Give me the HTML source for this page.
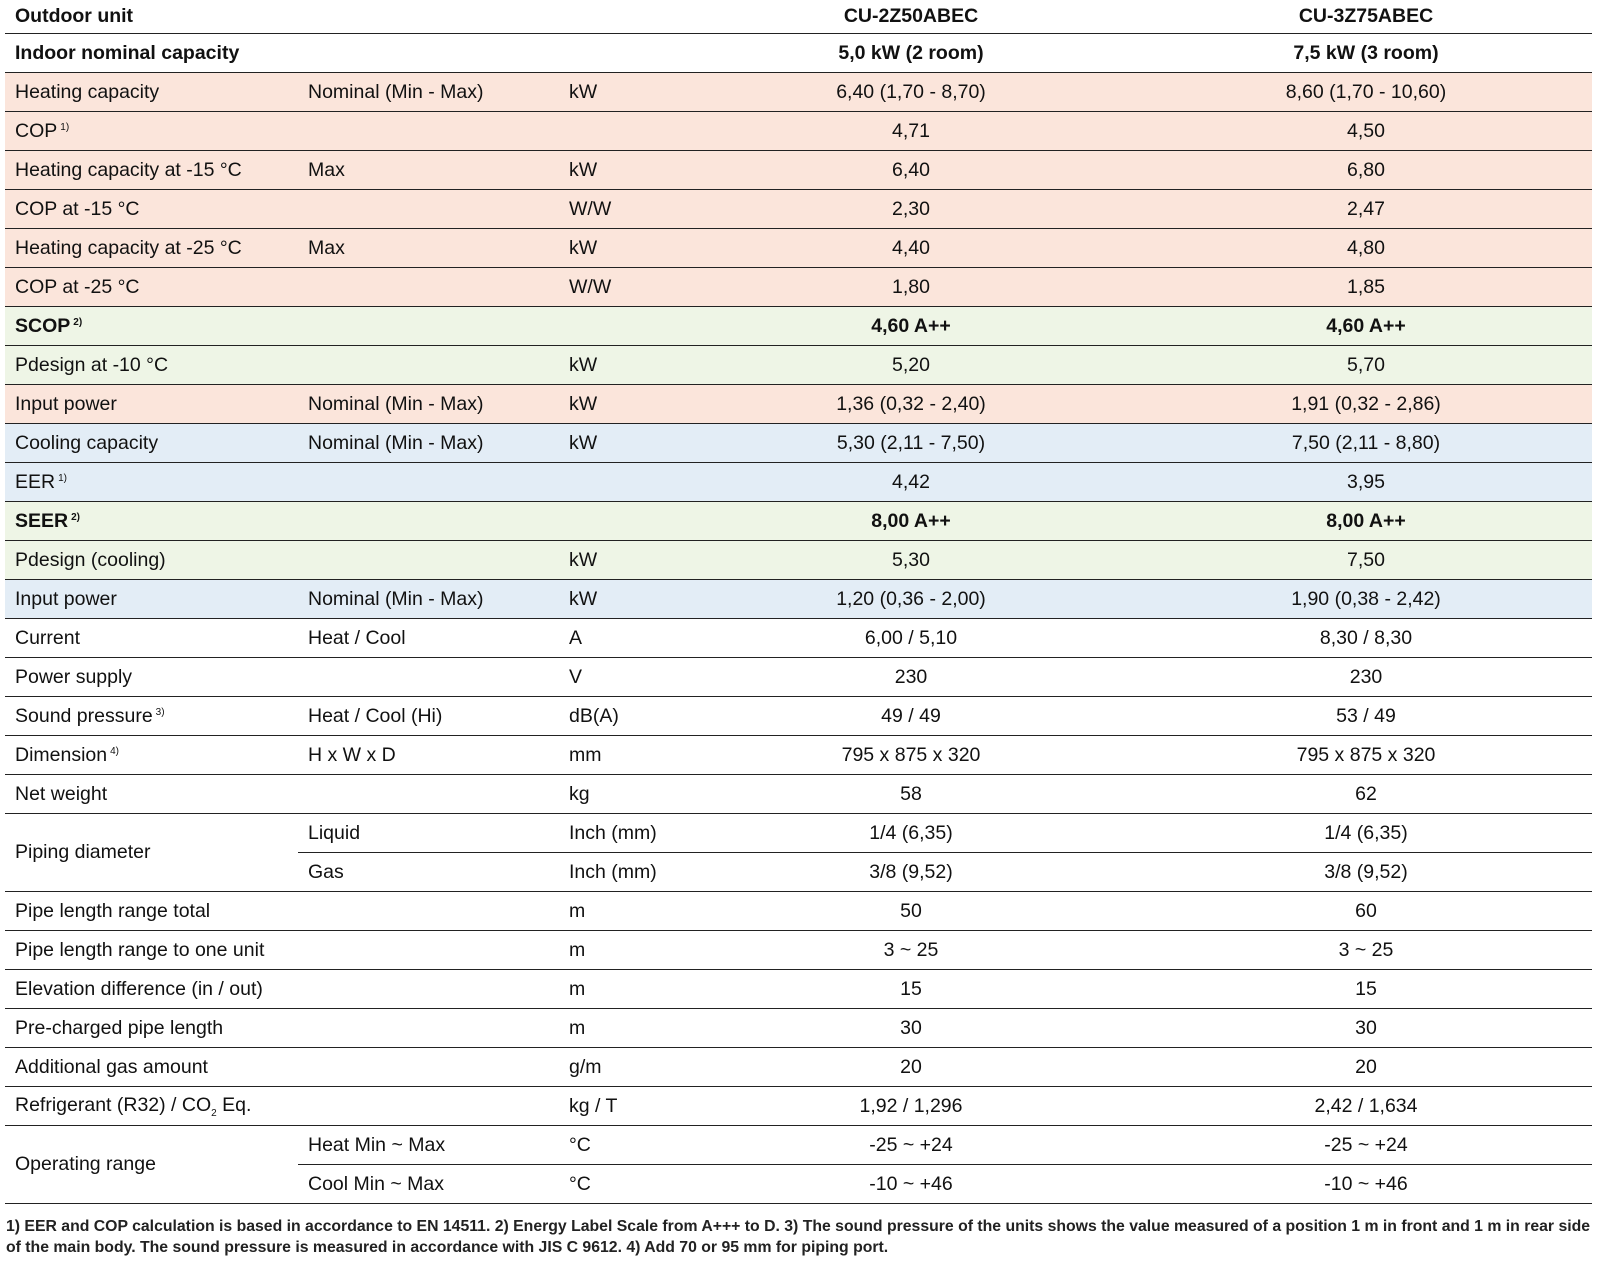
<!DOCTYPE html>
<html><head><meta charset="utf-8"><style>
body{margin:0;width:1599px;height:1268px;background:#fff;font-family:"Liberation Sans",sans-serif;color:#111;overflow:hidden}
table{position:absolute;left:5px;top:0;width:1587px;border-collapse:collapse;table-layout:fixed;font-size:19.5px}
td{height:38px;padding:0;border-bottom:1.5px solid #222;white-space:nowrap;vertical-align:middle}
td.a{padding-left:10px}
td.c{text-align:center}
tr.h td{height:33px}
.b{font-weight:bold}
.p td{background:#fbe5db}.g td{background:#eef5e6}.u td{background:#e3edf6}
sup{font-size:10px;vertical-align:7px;margin-left:3px}
sub{font-size:10px}
.f{position:absolute;left:6px;top:1216px;font-size:15.8px;font-weight:bold;line-height:21px;white-space:nowrap;color:#222}
</style></head><body>
<table>
<colgroup><col style="width:293px"><col style="width:261px"><col style="width:123px"><col style="width:458px"><col style="width:452px"></colgroup>
<tr class="h b"><td class="a">Outdoor unit</td><td></td><td></td><td class="c">CU-2Z50ABEC</td><td class="c">CU-3Z75ABEC</td></tr>
<tr class="b"><td class="a">Indoor nominal capacity</td><td></td><td></td><td class="c">5,0 kW (2 room)</td><td class="c">7,5 kW (3 room)</td></tr>
<tr class="p"><td class="a">Heating capacity</td><td class="a">Nominal (Min - Max)</td><td class="a">kW</td><td class="c">6,40 (1,70 - 8,70)</td><td class="c">8,60 (1,70 - 10,60)</td></tr>
<tr class="p"><td class="a">COP<sup>1)</sup></td><td></td><td></td><td class="c">4,71</td><td class="c">4,50</td></tr>
<tr class="p"><td class="a">Heating capacity at -15 °C</td><td class="a">Max</td><td class="a">kW</td><td class="c">6,40</td><td class="c">6,80</td></tr>
<tr class="p"><td class="a">COP at -15 °C</td><td></td><td class="a">W/W</td><td class="c">2,30</td><td class="c">2,47</td></tr>
<tr class="p"><td class="a">Heating capacity at -25 °C</td><td class="a">Max</td><td class="a">kW</td><td class="c">4,40</td><td class="c">4,80</td></tr>
<tr class="p"><td class="a">COP at -25 °C</td><td></td><td class="a">W/W</td><td class="c">1,80</td><td class="c">1,85</td></tr>
<tr class="g b"><td class="a">SCOP<sup>2)</sup></td><td></td><td></td><td class="c">4,60 A++</td><td class="c">4,60 A++</td></tr>
<tr class="g"><td class="a">Pdesign at -10 °C</td><td></td><td class="a">kW</td><td class="c">5,20</td><td class="c">5,70</td></tr>
<tr class="p"><td class="a">Input power</td><td class="a">Nominal (Min - Max)</td><td class="a">kW</td><td class="c">1,36 (0,32 - 2,40)</td><td class="c">1,91 (0,32 - 2,86)</td></tr>
<tr class="u"><td class="a">Cooling capacity</td><td class="a">Nominal (Min - Max)</td><td class="a">kW</td><td class="c">5,30 (2,11 - 7,50)</td><td class="c">7,50 (2,11 - 8,80)</td></tr>
<tr class="u"><td class="a">EER<sup>1)</sup></td><td></td><td></td><td class="c">4,42</td><td class="c">3,95</td></tr>
<tr class="g b"><td class="a">SEER<sup>2)</sup></td><td></td><td></td><td class="c">8,00 A++</td><td class="c">8,00 A++</td></tr>
<tr class="g"><td class="a">Pdesign (cooling)</td><td></td><td class="a">kW</td><td class="c">5,30</td><td class="c">7,50</td></tr>
<tr class="u"><td class="a">Input power</td><td class="a">Nominal (Min - Max)</td><td class="a">kW</td><td class="c">1,20 (0,36 - 2,00)</td><td class="c">1,90 (0,38 - 2,42)</td></tr>
<tr><td class="a">Current</td><td class="a">Heat / Cool</td><td class="a">A</td><td class="c">6,00 / 5,10</td><td class="c">8,30 / 8,30</td></tr>
<tr><td class="a">Power supply</td><td></td><td class="a">V</td><td class="c">230</td><td class="c">230</td></tr>
<tr><td class="a">Sound pressure<sup>3)</sup></td><td class="a">Heat / Cool (Hi)</td><td class="a">dB(A)</td><td class="c">49 / 49</td><td class="c">53 / 49</td></tr>
<tr><td class="a">Dimension<sup>4)</sup></td><td class="a">H x W x D</td><td class="a">mm</td><td class="c">795 x 875 x 320</td><td class="c">795 x 875 x 320</td></tr>
<tr><td class="a">Net weight</td><td></td><td class="a">kg</td><td class="c">58</td><td class="c">62</td></tr>
<tr><td class="a" rowspan="2">Piping diameter</td><td class="a">Liquid</td><td class="a">Inch (mm)</td><td class="c">1/4 (6,35)</td><td class="c">1/4 (6,35)</td></tr>
<tr><td class="a">Gas</td><td class="a">Inch (mm)</td><td class="c">3/8 (9,52)</td><td class="c">3/8 (9,52)</td></tr>
<tr><td class="a">Pipe length range total</td><td></td><td class="a">m</td><td class="c">50</td><td class="c">60</td></tr>
<tr><td class="a">Pipe length range to one unit</td><td></td><td class="a">m</td><td class="c">3 ~ 25</td><td class="c">3 ~ 25</td></tr>
<tr><td class="a">Elevation difference (in / out)</td><td></td><td class="a">m</td><td class="c">15</td><td class="c">15</td></tr>
<tr><td class="a">Pre-charged pipe length</td><td></td><td class="a">m</td><td class="c">30</td><td class="c">30</td></tr>
<tr><td class="a">Additional gas amount</td><td></td><td class="a">g/m</td><td class="c">20</td><td class="c">20</td></tr>
<tr><td class="a">Refrigerant (R32) / CO<sub>2</sub> Eq.</td><td></td><td class="a">kg / T</td><td class="c">1,92 / 1,296</td><td class="c">2,42 / 1,634</td></tr>
<tr><td class="a" rowspan="2">Operating range</td><td class="a">Heat Min ~ Max</td><td class="a">°C</td><td class="c">-25 ~ +24</td><td class="c">-25 ~ +24</td></tr>
<tr><td class="a">Cool Min ~ Max</td><td class="a">°C</td><td class="c">-10 ~ +46</td><td class="c">-10 ~ +46</td></tr>
</table>
<div class="f">1) EER and COP calculation is based in accordance to EN 14511. 2) Energy Label Scale from A+++ to D. 3) The sound pressure of the units shows the value measured of a position 1 m in front and 1 m in rear side<br>of the main body. The sound pressure is measured in accordance with JIS C 9612. 4) Add 70 or 95 mm for piping port.</div>
</body></html>
